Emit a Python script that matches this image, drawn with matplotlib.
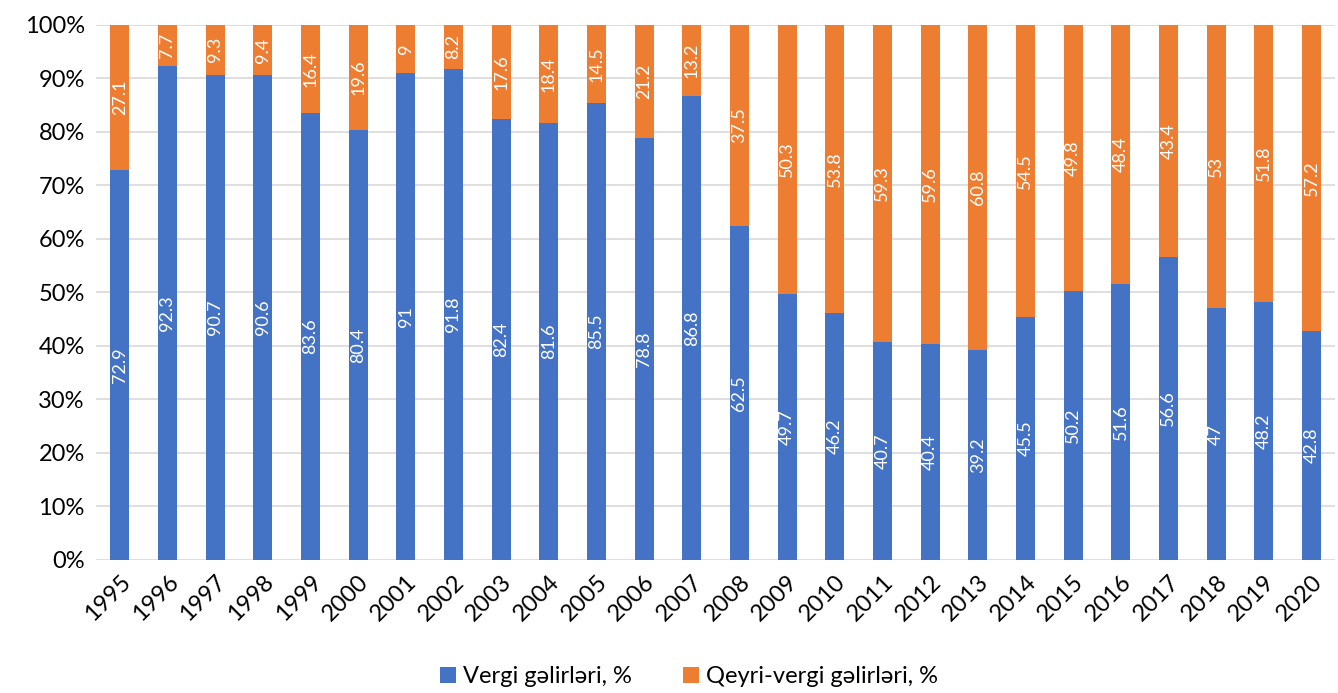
import matplotlib.pyplot as plt
import numpy as np

plt.rcParams['font.family'] = ['Lato', 'DejaVu Sans']

years = [str(y) for y in range(1995, 2021)]
vergi = [72.9, 92.3, 90.7, 90.6, 83.6, 80.4, 91, 91.8, 82.4, 81.6, 85.5, 78.8, 86.8,
         62.5, 49.7, 46.2, 40.7, 40.4, 39.2, 45.5, 50.2, 51.6, 56.6, 47, 48.2, 42.8]
qeyri = [27.1, 7.7, 9.3, 9.4, 16.4, 19.6, 9, 8.2, 17.6, 18.4, 14.5, 21.2, 13.2,
         37.5, 50.3, 53.8, 59.3, 59.6, 60.8, 54.5, 49.8, 48.4, 43.4, 53, 51.8, 57.2]

v = np.array(vergi, dtype=float)
q = np.array(qeyri, dtype=float)
tot = v + q
v_pct = v / tot * 100
q_pct = q / tot * 100

fig = plt.figure(figsize=(13.38, 6.93), dpi=100)
ax = fig.add_axes([0.0717, 0.192, 0.9263, 0.772])

x = np.arange(len(years))
b1 = ax.bar(x, v_pct, width=0.4, color='#4472C4', label='Vergi gəlirləri, %', zorder=3)
b2 = ax.bar(x, q_pct, width=0.4, bottom=v_pct, color='#ED7D31', label='Qeyri-vergi gəlirləri, %', zorder=3)

for i in range(len(years)):
    ax.text(x[i], v_pct[i] / 2, f'{vergi[i]:g}', rotation=90, ha='center', va='center',
            color='white', fontsize=13, zorder=4)
    ax.text(x[i], v_pct[i] + q_pct[i] / 2, f'{qeyri[i]:g}', rotation=90, ha='center', va='center',
            color='white', fontsize=13, zorder=4)

ax.set_xlim(-0.5, len(years) - 0.5)
ax.set_ylim(0, 100)
ax.set_yticks(range(0, 101, 10))
ax.set_yticklabels([f'{t}%' for t in range(0, 101, 10)], fontsize=17)
ax.set_xticks(x)
ax.set_xticklabels(years, rotation=45, ha='right', rotation_mode='anchor', fontsize=17)
ax.tick_params(length=0, pad=8)
ax.grid(axis='y', color='#D9D9D9', linewidth=1.2, zorder=0)
for s in ax.spines.values():
    s.set_visible(False)

fig.legend(handles=[b1, b2], loc='lower center', bbox_to_anchor=(0.515, -0.022), ncol=2,
           frameon=False, fontsize=17, handlelength=0.65, handleheight=0.65,
           handletextpad=0.3, columnspacing=2.2)

fig.savefig('out.png', dpi=100)
